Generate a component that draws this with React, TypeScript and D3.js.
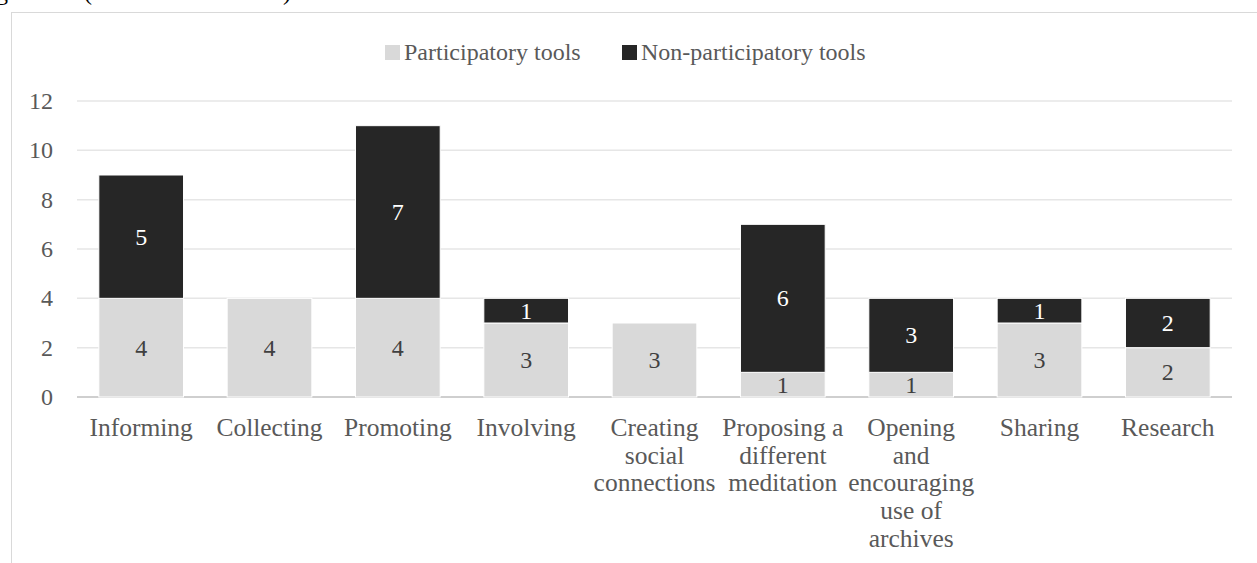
import { scaleBand, scaleLinear } from "d3";

const categories = [
  "Informing",
  "Collecting",
  "Promoting",
  "Involving",
  "Creating social connections",
  "Proposing a different meditation",
  "Opening and encouraging use of archives",
  "Sharing",
  "Research",
];

const categoryLines = [
  ["Informing"],
  ["Collecting"],
  ["Promoting"],
  ["Involving"],
  ["Creating", "social", "connections"],
  ["Proposing a", "different", "meditation"],
  ["Opening", "and", "encouraging", "use of", "archives"],
  ["Sharing"],
  ["Research"],
];

const participatory = [4, 4, 4, 3, 3, 1, 1, 3, 2];
const nonParticipatory = [5, 0, 7, 1, 0, 6, 3, 1, 2];

const yTicks = [0, 2, 4, 6, 8, 10, 12];

const seriesNames = ["Participatory tools", "Non-participatory tools"];

export default function App() {
  const width = 1257;
  const height = 563;
  const font = "'Liberation Serif', 'Times New Roman', serif";
  const lightFill = "#d9d9d9";
  const darkFill = "#262626";

  const x = scaleBand<string>()
    .domain(categories)
    .range([77, 1232])
    .paddingInner(0.34)
    .paddingOuter(0.17);

  const y = scaleLinear().domain([0, 12]).range([397, 101]);

  return (
    <div style={{ position: "absolute", left: 0, top: 0 }}>
      <svg width={width} height={height} viewBox={`0 0 ${width} ${height}`} style={{ display: "block" }}>
        <rect x={0} y={0} width={width} height={height} fill="#ffffff" />

        {/* caption fragment cut off at the top */}
        <g fontFamily={font} fontSize={24} fill="#000000">
          <text x={-4} y={0}>g</text>
          <text x={84} y={0}>(</text>
          <text x={283} y={0}>)</text>
        </g>

        <rect x={11.5} y={12.5} width={width + 20} height={height + 20} fill="none" stroke="#d9d9d9" strokeWidth={1} />

        {/* legend */}
        <g fontFamily={font} fontSize={24} fill="#595959">
          <rect x={385} y={45} width={15} height={15} fill={lightFill} />
          <text x={404} y={60}>{seriesNames[0]}</text>
          <rect x={622} y={45} width={15} height={15} fill={darkFill} />
          <text x={641} y={60}>{seriesNames[1]}</text>
        </g>

        {/* gridlines */}
        {yTicks.map((t) => (
          <line
            key={t}
            x1={77}
            x2={1232}
            y1={y(t)}
            y2={y(t)}
            stroke={t === 0 ? "#bfbfbf" : "#e6e6e6"}
            strokeWidth={1.5}
          />
        ))}

        {yTicks.map((t) => (
          <text
            key={t}
            x={53}
            y={y(t) + 8}
            textAnchor="end"
            fontFamily={font}
            fontSize={24}
            fill="#595959"
          >
            {t}
          </text>
        ))}

        {categories.map((c, i) => {
          const bx = x(c) ?? 0;
          const bw = x.bandwidth();
          const p = participatory[i];
          const n = nonParticipatory[i];
          const cx = bx + bw / 2;
          return (
            <g key={c}>
              {p > 0 ? (
                <rect x={bx} y={y(p)} width={bw} height={y(0) - y(p)} fill={lightFill} stroke="#ffffff" strokeWidth={1} />
              ) : null}
              {n > 0 ? (
                <rect x={bx} y={y(p + n)} width={bw} height={y(p) - y(p + n)} fill={darkFill} stroke="#ffffff" strokeWidth={1} />
              ) : null}
              {p > 0 ? (
                <text x={cx} y={(y(0) + y(p)) / 2 + 8} textAnchor="middle" fontFamily={font} fontSize={24} fill="#404040">
                  {p}
                </text>
              ) : null}
              {n > 0 ? (
                <text x={cx} y={(y(p) + y(p + n)) / 2 + 8} textAnchor="middle" fontFamily={font} fontSize={24} fill="#ffffff">
                  {n}
                </text>
              ) : null}
              <text textAnchor="middle" fontFamily={font} fontSize={25.5} fill="#595959">
                {categoryLines[i].map((line, k) => (
                  <tspan key={k} x={cx} y={436 + k * 27.7}>
                    {line}
                  </tspan>
                ))}
              </text>
            </g>
          );
        })}
      </svg>
    </div>
  );
}
